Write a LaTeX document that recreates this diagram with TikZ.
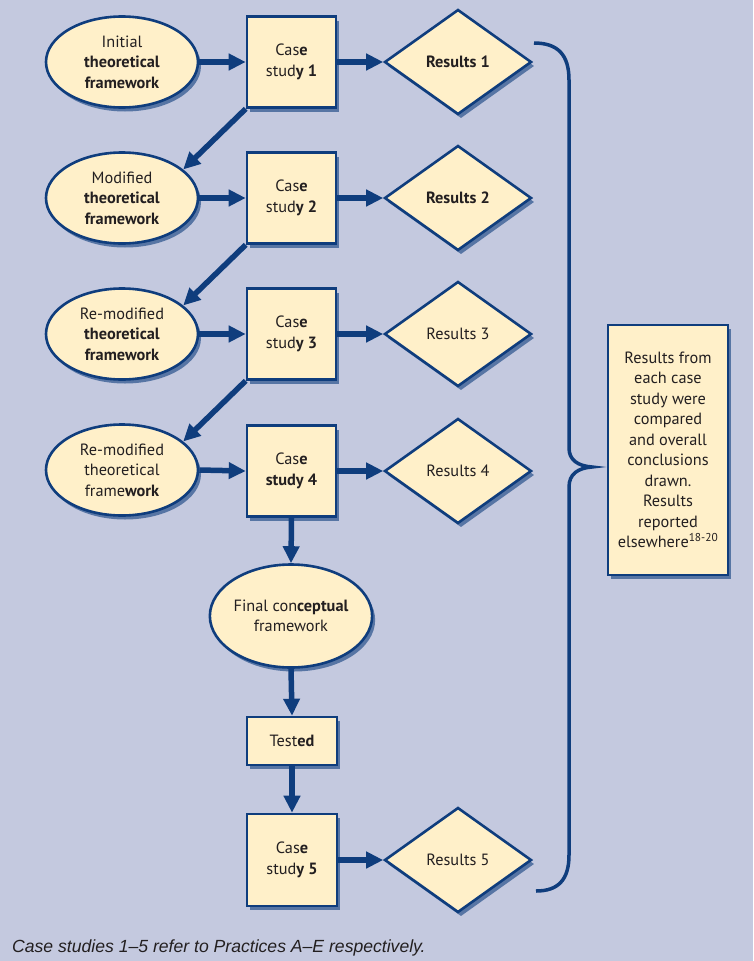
\documentclass[tikz,border=0pt]{standalone}
\usepackage{fontspec}
\setmainfont{PT Sans}
\newfontfamily\capfont{Liberation Sans}
\usetikzlibrary{shapes.geometric,arrows.meta,shadows}
\definecolor{bgc}{HTML}{C4C9DF}
\definecolor{cream}{HTML}{FFF0C9}
\definecolor{navy}{HTML}{0F3D7D}
\definecolor{txt}{HTML}{231F20}
\tikzset{
  shad/.style={drop shadow={shadow xshift=3pt,shadow yshift=-4pt,fill=navy,opacity=0.6}},
  base/.style={draw=navy,line width=2.6pt,fill=cream,text=txt,align=center,inner sep=0pt,shad,
    font=\fontsize{16.3}{20.5}\selectfont},
  ell/.style={base,ellipse,minimum width=152pt,minimum height=91pt},
  boxn/.style={base,rectangle,minimum width=89pt,minimum height=91pt},
  dia/.style={base,diamond,minimum width=147pt,minimum height=105pt},
  arr/.style={draw=navy,line width=5.5pt,-{Triangle[length=17pt,width=16pt]}},
  brace/.style={draw=navy,line width=3.5pt}
}
\begin{document}
\begin{tikzpicture}[x=1pt,y=-1pt]
\fill[bgc] (0,0) rectangle (753,961);
% row 1
\node[ell] (e1) at (122,62) {Initial\\\textbf{theoretical}\\\textbf{framework}};
\node[boxn] (b1) at (291.5,62) {Cas\textbf{e}\\stud\textbf{y 1}};
\node[dia] (d1) at (458,62) {\textbf{Results 1}};
% row 2
\node[ell] (e2) at (122,198) {Modified\\\textbf{theoretical}\\\textbf{framework}};
\node[boxn] (b2) at (291.5,198) {Cas\textbf{e}\\stud\textbf{y 2}};
\node[dia] (d2) at (458,198) {\textbf{Results 2}};
% row 3
\node[ell] (e3) at (122,334) {Re-modified\\\textbf{theoretical}\\\textbf{framework}};
\node[boxn] (b3) at (291.5,334) {Cas\textbf{e}\\stud\textbf{y 3}};
\node[dia] (d3) at (458,334) {Results 3};
% row 4
\node[ell] (e4) at (122,470) {Re-modified\\theoretical\\frame\textbf{work}};
\node[boxn] (b4) at (291.5,471) {Cas\textbf{e}\\\textbf{study 4}};
\node[dia] (d4) at (458,471) {Results 4};
% lower column
\node[ell,minimum width=152pt,minimum height=103pt] (fin) at (291,616) {Final con\textbf{ceptual}\\framework};
\node[boxn,minimum width=90pt,minimum height=48pt] (tst) at (292,741) {Test\textbf{ed}};
\node[boxn,minimum width=90pt,minimum height=92pt] (b5) at (292,860) {Cas\textbf{e}\\stud\textbf{y 5}};
\node[dia] (d5) at (458,860) {Results 5};
% right box
\node[boxn,minimum width=120pt,minimum height=250pt] (rb) at (668,450)
  {Results from\\each case\\study were\\compared\\and overall\\conclusions\\drawn.\\Results\\reported\\elsewhere\textsuperscript{18-20}};
% arrows
\draw[arr] (e1.east) -- (b1.west);
\draw[arr] (b1.east) -- (d1.west);
\draw[arr] (e2.east) -- (b2.west);
\draw[arr] (b2.east) -- (d2.west);
\draw[arr] (e3.east) -- (b3.west);
\draw[arr] (b3.east) -- (d3.west);
\draw[arr] (e4.east) -- (b4.west);
\draw[arr] (b4.east) -- (d4.west);
\draw[arr] (b1.south west) -- (e2.25);
\draw[arr] (b2.south west) -- (e3.25);
\draw[arr] (b3.south west) -- (e4.25);
\draw[arr] (b4.south) -- (fin.north);
\draw[arr] (fin.south) -- (tst.north);
\draw[arr] (tst.south) -- (b5.north);
\draw[arr] (b5.east) -- (d5.west);
% brace
\coordinate (bt) at (534,43);
\coordinate (bm) at (592,467);
\coordinate (bb) at (536,891);
\draw[brace] (bt) .. controls (558,43) and (569,55) .. (569,80) -- (569,448)
  .. controls (569,460) and (578,466) .. (bm)
  .. controls (578,468) and (569,474) .. (569,487) -- (569,855)
  .. controls (569,880) and (558,891) .. (bb);
% caption
\node[anchor=west,inner sep=0pt,text=txt,font=\capfont\itshape\fontsize{17.6}{20}\selectfont] (cap) at (12,948)
  {Case studies 1–5 refer to Practices A–E respectively.};
\end{tikzpicture}
\end{document}
